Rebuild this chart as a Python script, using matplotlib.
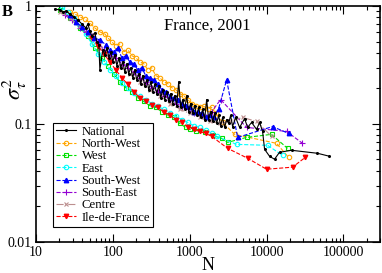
import matplotlib
matplotlib.use("Agg")
import matplotlib.pyplot as plt
from matplotlib.ticker import LogLocator, NullFormatter, FixedFormatter, FixedLocator

plt.rcParams['font.family'] = ['Liberation Serif', 'DejaVu Serif']
plt.rcParams['mathtext.fontset'] = 'stix'

# ---- data (N, sigma_tau^2) ----
national_n = [17.7, 20.5, 22.4, 24.5, 27.7, 31.2, 35.1, 39.6, 44.6, 47.4, 50.3, 53.4, 58.4, 62.0,
              65.9, 67.9, 74.2, 78.8, 83.7, 88.8, 94.3, 100, 106, 113, 120, 127, 135, 143, 152, 161,
              171, 182, 193, 205, 218, 231, 245, 261, 277, 294, 312, 331, 351, 373, 396, 421, 446,
              474, 503, 534, 567, 602, 639, 679, 720, 765, 812, 862, 915, 972, 1030, 1094, 1161,
              1233, 1309, 1389, 1475, 1566, 1663, 1765, 1874, 1990, 2113, 2243, 2381, 2528, 2684,
              2850, 3026, 3212, 3410, 3620, 3960, 4464, 5184, 5671, 6392, 7423, 8120, 8882, 9430,
              10940, 12700, 14750, 21130, 46000, 65860]
national_s = [0.943, 0.925, 0.890, 0.907, 0.856, 0.808, 0.762, 0.705, 0.652, 0.705, 0.615, 0.558,
              0.592, 0.497, 0.469, 0.288, 0.425, 0.386, 0.442, 0.364, 0.409, 0.337, 0.386, 0.312,
              0.364, 0.300, 0.337, 0.277, 0.324, 0.267, 0.300, 0.247, 0.288, 0.237, 0.267, 0.220,
              0.257, 0.211, 0.237, 0.195, 0.228, 0.188, 0.216, 0.181, 0.211, 0.167, 0.195, 0.161,
              0.188, 0.155, 0.181, 0.149, 0.174, 0.143, 0.228, 0.138, 0.161, 0.133, 0.174, 0.127,
              0.149, 0.123, 0.143, 0.118, 0.138, 0.1135, 0.133, 0.109, 0.161, 0.109, 0.127, 0.105,
              0.123, 0.101, 0.118, 0.097, 0.1135, 0.0934, 0.109, 0.101, 0.118, 0.095, 0.1135,
              0.0934, 0.111, 0.0934, 0.103, 0.0899, 0.103, 0.0865, 0.061, 0.0532, 0.0502, 0.0575,
              0.0598, 0.0564, 0.0532]

northwest_n = [27.7, 32.1, 37.3, 43.3, 50.3, 58.4, 67.9, 78.8, 86.2, 97.2, 109, 123, 139, 157, 177,
               199, 224, 253, 285, 321, 362, 408, 460, 518, 584, 659, 742, 837, 943, 1061, 1196,
               1348, 1520, 1713, 1931, 2177, 2684, 3844, 13480, 19310]
northwest_s = [0.890, 0.856, 0.808, 0.777, 0.719, 0.652, 0.603, 0.580, 0.537, 0.497, 0.460, 0.478,
               0.409, 0.425, 0.379, 0.364, 0.337, 0.324, 0.288, 0.300, 0.257, 0.247, 0.228, 0.220,
               0.203, 0.195, 0.181, 0.174, 0.161, 0.149, 0.143, 0.138, 0.141, 0.135, 0.138, 0.123,
               0.103, 0.0816, 0.0685, 0.0522]

west_n = [20.5, 27.7, 37.3, 47.4, 58.4, 72.0, 86.2, 103, 123, 148, 177, 211, 253, 303, 362, 433,
          518, 620, 742, 888, 1000, 1196, 1566, 1990, 2605, 3117, 5504, 11610, 18740]
west_s = [0.925, 0.792, 0.652, 0.558, 0.442, 0.364, 0.312, 0.267, 0.228, 0.203, 0.188, 0.167,
          0.155, 0.143, 0.138, 0.127, 0.118, 0.1135, 0.101, 0.0934, 0.0899, 0.0865, 0.0848, 0.080,
          0.0755, 0.0698, 0.0769, 0.0816, 0.0621]

east_n = [21.8, 26.0, 31.2, 37.3, 44.6, 53.4, 63.9, 76.5, 91.5, 109, 131, 157, 187, 224, 268, 321,
          384, 460, 550, 659, 788, 943, 1127, 1348, 1614, 1931, 2243, 4081, 10300, 16140]
east_s = [0.981, 0.890, 0.792, 0.678, 0.580, 0.478, 0.394, 0.337, 0.288, 0.257, 0.224, 0.203,
          0.184, 0.171, 0.161, 0.149, 0.141, 0.133, 0.125, 0.116, 0.109, 0.103, 0.097, 0.0934,
          0.0881, 0.0832, 0.0785, 0.0671, 0.0659, 0.0542]

southwest_n = [27.7, 33.1, 39.6, 47.4, 56.7, 67.9, 81.2, 91.5, 103, 116, 131, 148, 166, 187, 211,
               238, 268, 303, 341, 384, 433, 488, 550, 620, 699, 788, 888, 1000, 1127, 1270, 1432,
               1614, 1819, 2050, 2381, 3026, 4205, 11960, 19310]
southwest_s = [0.839, 0.733, 0.665, 0.603, 0.537, 0.516, 0.469, 0.425, 0.409, 0.442, 0.364, 0.379,
               0.337, 0.324, 0.288, 0.300, 0.257, 0.247, 0.237, 0.220, 0.195, 0.188, 0.174, 0.167,
               0.161, 0.149, 0.143, 0.138, 0.127, 0.127, 0.123, 0.1135, 0.118, 0.1135, 0.135,
               0.237, 0.0769, 0.095, 0.0832]

southeast_n = [23.8, 29.4, 37.3, 44.6, 53.4, 63.9, 76.5, 91.5, 109, 131, 157, 187, 224, 268, 321,
               384, 460, 550, 659, 788, 943, 1127, 1348, 1614, 1931, 2528, 5504, 18190, 29360]
southeast_s = [0.839, 0.762, 0.652, 0.603, 0.558, 0.497, 0.425, 0.379, 0.364, 0.324, 0.300, 0.277,
               0.247, 0.228, 0.203, 0.188, 0.174, 0.161, 0.149, 0.138, 0.133, 0.123, 0.118, 0.1135,
               0.127, 0.161, 0.0934, 0.0865, 0.0685]

centre_n = [20.5, 27.7, 37.3, 50.3, 67.9, 91.5, 123, 166, 224, 303, 408, 550, 742, 1000, 1348,
            1819, 2454, 3310, 4883, 7423, 11610]
centre_s = [0.890, 0.792, 0.678, 0.558, 0.442, 0.364, 0.312, 0.267, 0.228, 0.195, 0.174, 0.149,
            0.133, 0.123, 0.1135, 0.105, 0.101, 0.105, 0.1135, 0.105, 0.0785]

idf_n = [53.4, 63.9, 76.5, 91.5, 109, 131, 157, 187, 224, 268, 321, 384, 460, 550, 659, 788, 943,
         1127, 1348, 1614, 1931, 3117, 5671, 10000, 21770, 32120]
idf_s = [0.537, 0.460, 0.394, 0.337, 0.288, 0.247, 0.216, 0.188, 0.167, 0.155, 0.146, 0.138,
         0.127, 0.118, 0.109, 0.103, 0.095, 0.0899, 0.0865, 0.0832, 0.0785, 0.0621, 0.0512,
         0.0413, 0.043, 0.0522]

fig = plt.figure(figsize=(3.82, 2.73), dpi=100)
ax = fig.add_axes([0.094, 0.114, 0.901, 0.864])

ms = 3.2
lw = 0.8
ax.plot(national_n, national_s, '-', color='black', lw=lw, marker='o', ms=1.2, label='National', zorder=5)
ax.plot(northwest_n, northwest_s, '--', color='#ffa500', lw=lw, marker='o', ms=ms, mfc='none', mew=0.8, label='North-West')
ax.plot(west_n, west_s, '--', color='#00e000', lw=lw, marker='s', ms=ms, mfc='none', mew=0.8, label='West')
ax.plot(east_n, east_s, '--', color='#00ffff', lw=lw, marker='o', ms=ms, mfc='none', mew=0.8, label='East')
ax.plot(southwest_n, southwest_s, '--', color='#0000ff', lw=lw, marker='^', ms=ms, label='South-West', zorder=4)
ax.plot(southeast_n, southeast_s, '--', color='#9400d3', lw=lw, marker='+', ms=ms + 1, mew=0.8, label='South-East')
ax.plot(centre_n, centre_s, '-.', color='#bc8f8f', lw=lw, marker='x', ms=ms, mew=0.8, label='Centre')
ax.plot(idf_n, idf_s, '--', color='#ff0000', lw=lw, marker='v', ms=ms, label='Ile-de-France')

ax.set_xscale('log')
ax.set_yscale('log')
ax.set_xlim(10, 300000)
ax.set_ylim(0.01, 1)

ax.xaxis.set_major_locator(FixedLocator([10, 100, 1000, 10000, 100000]))
ax.xaxis.set_major_formatter(FixedFormatter(['10', '100', '1000', '10000', '100000']))
ax.xaxis.set_minor_locator(LogLocator(base=10, subs=range(2, 10), numticks=20))
ax.xaxis.set_minor_formatter(NullFormatter())
ax.yaxis.set_major_locator(FixedLocator([0.01, 0.1, 1]))
ax.yaxis.set_major_formatter(FixedFormatter(['0.01', '0.1', '1']))
ax.yaxis.set_minor_locator(LogLocator(base=10, subs=range(2, 10), numticks=20))
ax.yaxis.set_minor_formatter(NullFormatter())

ax.tick_params(which='both', direction='in', top=True, right=True, labelsize=10, width=0.8)
ax.tick_params(which='major', length=6, pad=3)
ax.tick_params(which='minor', length=3)
for sp in ax.spines.values():
    sp.set_linewidth(1.2)

ax.set_xlabel('N', fontsize=13)
ax.xaxis.set_label_coords(0.5, -0.065)
ax.set_ylabel(r'$\sigma_\tau^2$', fontsize=16)
ax.yaxis.set_label_coords(-0.02, 0.65)

ax.text(0.497, 0.915, 'France, 2001', transform=ax.transAxes, ha='center', va='center', fontsize=12)
fig.text(0.005, 0.955, 'B', fontsize=12, fontweight='bold', ha='left', va='center')

leg = ax.legend(loc='upper left', bbox_to_anchor=(0.049, 0.505), fontsize=9.2, frameon=True,
                fancybox=False, edgecolor='black', framealpha=1, handlelength=1.6,
                handletextpad=0.4, labelspacing=0.02, borderpad=0.25, borderaxespad=0)
leg.get_frame().set_linewidth(0.8)

fig.savefig('out.png', dpi=100)
